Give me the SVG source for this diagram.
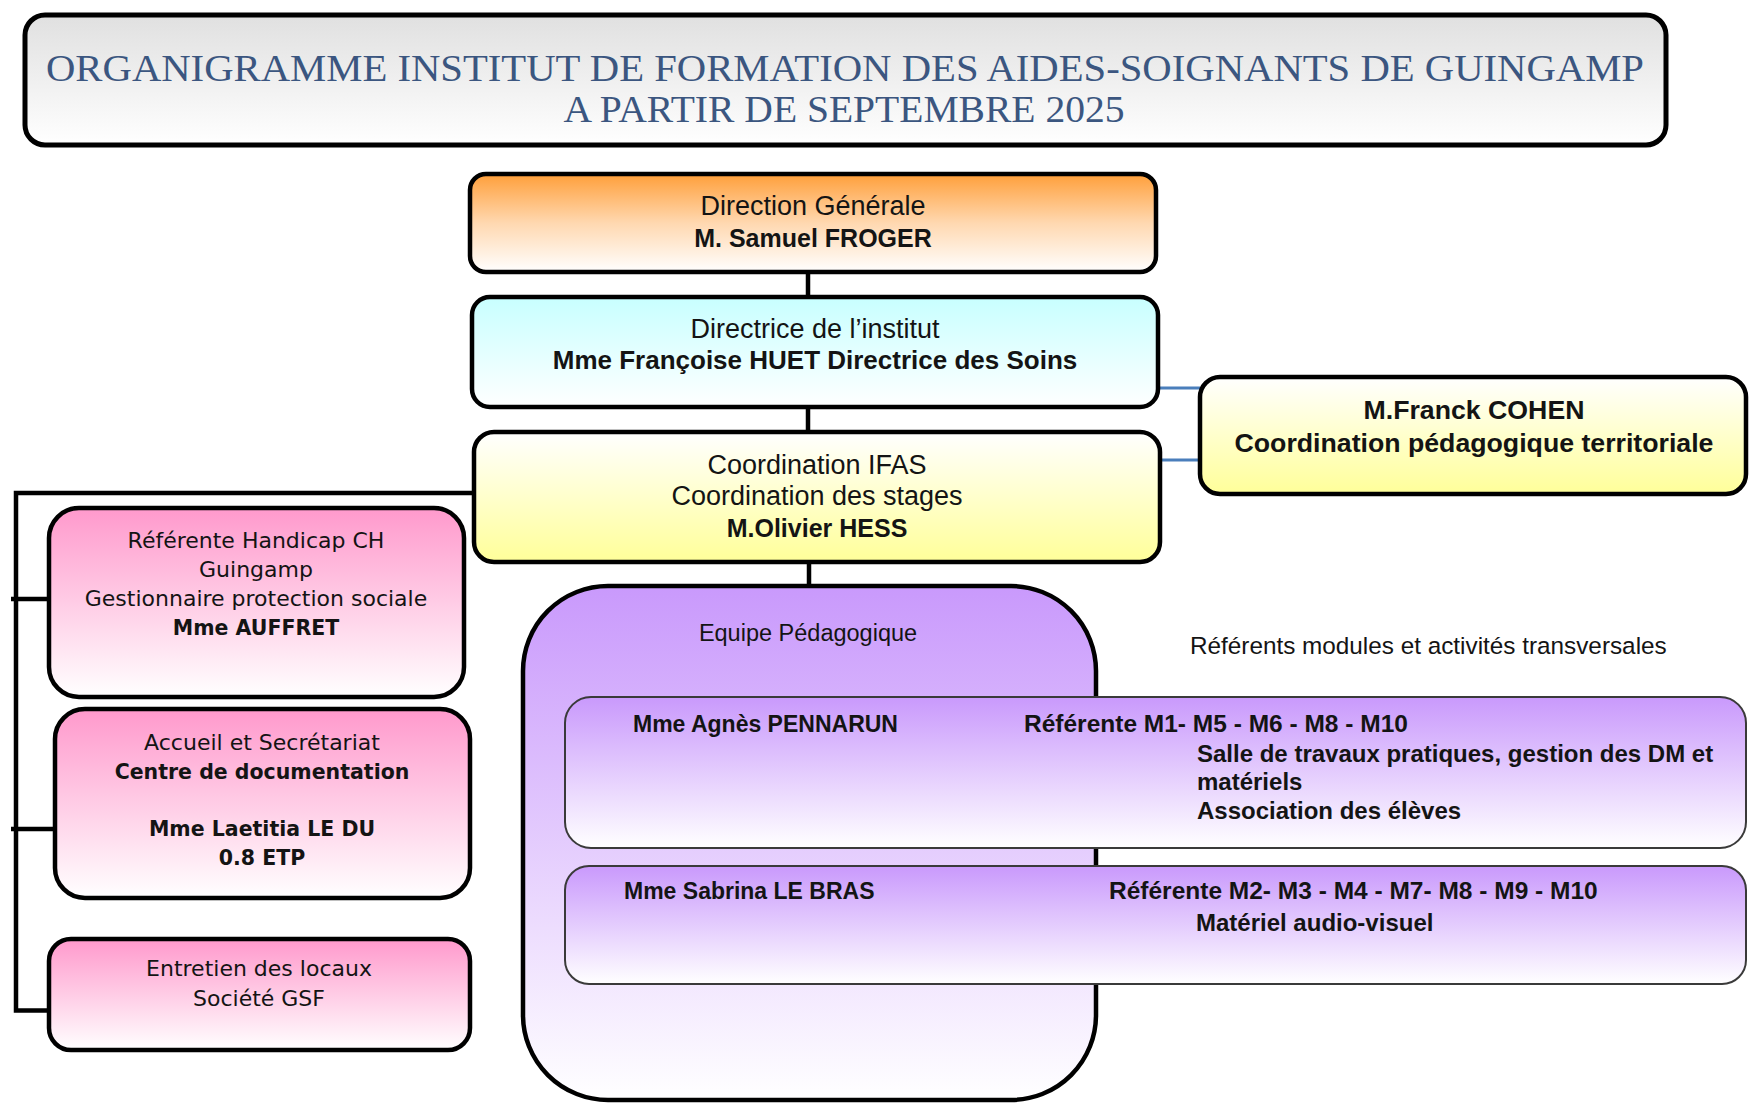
<svg xmlns="http://www.w3.org/2000/svg" width="1749" height="1104" viewBox="0 0 1749 1104">
<style>
.box{stroke:#000;stroke-width:4.5}
.row{stroke:#3a3a3a;stroke-width:2}
.con{stroke:#000;stroke-width:4.5;fill:none}
.blue{stroke:#4a7ebb;stroke-width:3;fill:none}
.t{font-family:"Liberation Sans",Arial,sans-serif;fill:#141414}
.tr{font-size:27px}
.tb{font-size:25px;font-weight:bold}
.p{font-family:"DejaVu Sans",Verdana,sans-serif;fill:#141414}
.pr{font-size:22px}
.pb{font-size:20.5px;font-weight:bold}
.m{text-anchor:middle}
.title{font-family:"Liberation Serif","Times New Roman",serif;font-size:37px;fill:#3b5680;text-anchor:middle}
.rn{font-size:23px;font-weight:bold}
.rr{font-size:24.5px;font-weight:bold}
.rb{font-size:24px;font-weight:bold}
</style>
<defs>
<linearGradient id="gTitle" x1="0" y1="0" x2="0" y2="1"><stop offset="0" stop-color="#e0e0e0"/><stop offset="1" stop-color="#ffffff"/></linearGradient>
<linearGradient id="gOrange" x1="0" y1="0" x2="0" y2="1"><stop offset="0" stop-color="#ff9f3a"/><stop offset="0.5" stop-color="#ffd8b0"/><stop offset="1" stop-color="#ffffff"/></linearGradient>
<linearGradient id="gCyan" x1="0" y1="0" x2="0" y2="1"><stop offset="0" stop-color="#c8ffff"/><stop offset="1" stop-color="#ffffff"/></linearGradient>
<linearGradient id="gYellow" x1="0" y1="0" x2="0" y2="1"><stop offset="0" stop-color="#ffffff"/><stop offset="1" stop-color="#ffff99"/></linearGradient>
<linearGradient id="gPink" x1="0" y1="0" x2="0" y2="1"><stop offset="0" stop-color="#ff99cc"/><stop offset="1" stop-color="#ffffff"/></linearGradient>
<linearGradient id="gPurple" x1="0" y1="0" x2="0" y2="1"><stop offset="0" stop-color="#c999fc"/><stop offset="1" stop-color="#ffffff"/></linearGradient>
</defs>
<rect width="1749" height="1104" fill="#ffffff"/>

<g id="title">
<rect x="25" y="15" width="1641" height="130" rx="20" fill="url(#gTitle)" stroke="#000" stroke-width="5"/>
<text class="title" x="845" y="81" textLength="1598" lengthAdjust="spacingAndGlyphs">ORGANIGRAMME INSTITUT DE FORMATION DES AIDES-SOIGNANTS DE GUINGAMP</text>
<text class="title" x="844" y="122" textLength="561" lengthAdjust="spacingAndGlyphs">A PARTIR DE SEPTEMBRE 2025</text>
</g>

<g id="connectors">
<line class="con" x1="808" y1="272" x2="808" y2="297"/>
<line class="con" x1="808" y1="407" x2="808" y2="432"/>
<line class="con" x1="809" y1="562" x2="809" y2="586"/>
<polyline class="con" points="474,493 16,493 16,1010.5 49,1010.5"/>
<line class="con" x1="11" y1="599" x2="50" y2="599"/>
<line class="con" x1="11" y1="829" x2="55" y2="829"/>
<line class="blue" x1="1158" y1="388" x2="1200" y2="388"/>
<line class="blue" x1="1160" y1="460" x2="1200" y2="460"/>
</g>

<g id="direction-generale">
<rect class="box" x="470" y="174" width="686" height="98" rx="16" fill="url(#gOrange)"/>
<text class="t tr m" x="813" y="215">Direction Générale</text>
<text class="t tb m" x="813" y="247">M. Samuel FROGER</text>
</g>

<g id="directrice">
<rect class="box" x="472" y="297" width="686" height="110" rx="18" fill="url(#gCyan)"/>
<text class="t tr m" x="815" y="338">Directrice de l’institut</text>
<text class="t m" x="815" y="369" font-size="26" font-weight="bold">Mme Françoise HUET Directrice des Soins</text>
</g>

<g id="coordination-ifas">
<rect class="box" x="474" y="432" width="686" height="130" rx="20" fill="url(#gYellow)"/>
<text class="t tr m" x="817" y="474">Coordination IFAS</text>
<text class="t tr m" x="817" y="505">Coordination des stages</text>
<text class="t tb m" x="817" y="537">M.Olivier HESS</text>
</g>

<g id="cohen">
<rect class="box" x="1200" y="377" width="546" height="117" rx="20" fill="url(#gYellow)"/>
<text class="t m" x="1474" y="419" font-size="26.7" font-weight="bold">M.Franck COHEN</text>
<text class="t m" x="1474" y="452" font-size="26.7" font-weight="bold">Coordination pédagogique territoriale</text>
</g>

<g id="referente-handicap">
<rect class="box" x="49" y="508" width="415" height="189" rx="30" fill="url(#gPink)"/>
<text class="p pr m" x="256" y="548">Référente Handicap CH</text>
<text class="p pr m" x="256" y="577">Guingamp</text>
<text class="p pr m" x="256" y="606">Gestionnaire protection sociale</text>
<text class="p pb m" x="256" y="635">Mme AUFFRET</text>
</g>

<g id="accueil">
<rect class="box" x="55" y="709" width="415" height="189" rx="30" fill="url(#gPink)"/>
<text class="p pr m" x="262" y="750">Accueil et Secrétariat</text>
<text class="p pb m" x="262" y="779">Centre de documentation</text>
<text class="p pb m" x="262" y="836">Mme Laetitia LE DU</text>
<text class="p pb m" x="262" y="865">0.8 ETP</text>
</g>

<g id="entretien">
<rect class="box" x="49" y="939" width="421" height="111" rx="22" fill="url(#gPink)"/>
<text class="p pr m" x="259" y="976">Entretien des locaux</text>
<text class="p pr m" x="259" y="1006">Société GSF</text>
</g>

<g id="equipe-pedagogique">
<rect class="box" x="523" y="586" width="573" height="514" rx="85" fill="url(#gPurple)"/>
<text class="t m" x="808" y="641" font-size="23.5">Equipe Pédagogique</text>
</g>

<g id="referents-label">
<text class="t" x="1190" y="654" font-size="24.3">Référents modules et activités transversales</text>
</g>

<g id="pennarun">
<rect class="row" x="565" y="697" width="1181" height="151" rx="26" fill="url(#gPurple)"/>
<text class="t rn" x="633" y="732">Mme Agnès PENNARUN</text>
<text class="t rr" x="1024" y="732">Référente M1- M5 - M6 - M8 - M10</text>
<text class="t rb" x="1197" y="762">Salle de travaux pratiques, gestion des DM et</text>
<text class="t rb" x="1197" y="790">matériels</text>
<text class="t rb" x="1197" y="819">Association des élèves</text>
</g>

<g id="le-bras">
<rect class="row" x="565" y="866" width="1181" height="118" rx="24" fill="url(#gPurple)"/>
<text class="t rn" x="624" y="899">Mme Sabrina LE BRAS</text>
<text class="t rr" x="1109" y="899">Référente M2- M3 - M4 - M7- M8 - M9 - M10</text>
<text class="t rb" x="1196" y="931">Matériel audio-visuel</text>
</g>
</svg>
